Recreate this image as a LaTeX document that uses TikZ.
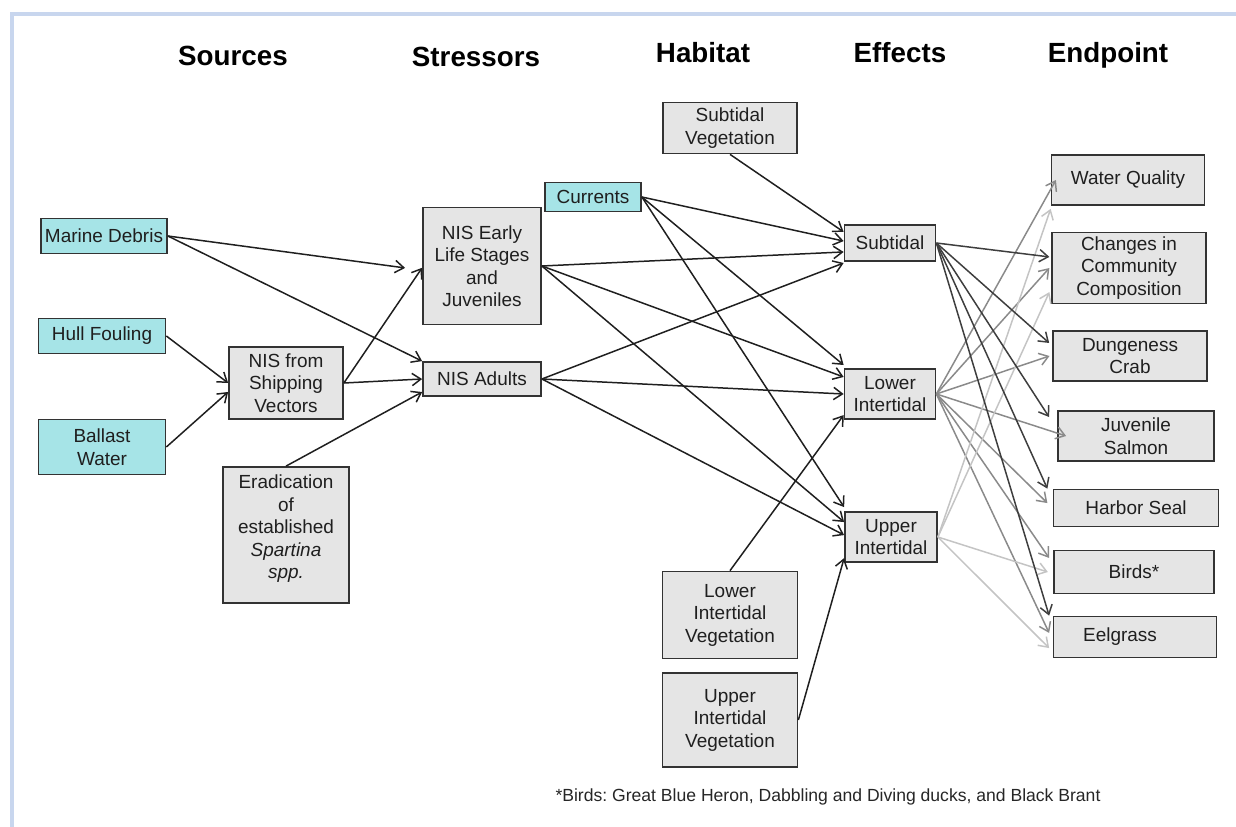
\documentclass[tikz,border=0pt]{standalone}
\usepackage{fontspec}
\setmainfont{Liberation Sans}
\usetikzlibrary{arrows.meta}
\frenchspacing

\definecolor{boxgrey}{RGB}{229,229,229}
\definecolor{boxcyan}{RGB}{166,228,231}
\definecolor{framebl}{RGB}{200,214,238}
\definecolor{linesub}{RGB}{62,62,62}
\definecolor{linelow}{RGB}{138,138,138}
\definecolor{lineup}{RGB}{196,196,196}

\begin{document}
\begin{tikzpicture}[x=0.02cm, y=-0.02cm, >={Straight Barb[length=5pt,width=7pt]}]
    \tikzstyle{grey box}=[
        draw = black!80,
        line width = 1pt,
        fill = boxgrey,
        text = black!88,
        inner sep = 1pt,
        align = center,
        font = \fontsize{10.8}{12.8}\selectfont
    ]
    \tikzstyle{cyan box}=[
        grey box,
        fill = boxcyan
    ]
    \tikzstyle{heading}=[
        font = \fontsize{15.8}{18}\selectfont\bfseries
    ]
    \tikzstyle{link}=[->, line width = 0.85pt, black!88]

    \useasboundingbox (0,0) rectangle (1236,827);
    \draw[framebl, line width = 2.3pt] (12,827) -- (12,14) -- (1236,14);

    \node[heading] (hsrc) at (233,56) {Sources};
    \node[heading] (hstr) at (476,57) {Stressors};
    \node[heading] (hhab) at (703,53) {Habitat};
    \node[heading] (heff) at (900,53) {Effects};
    \node[heading] (hend) at (1108,55) {Endpoint};

    \node[cyan box, minimum width=2.52cm, minimum height=0.70cm] (md) at (104,236) {Marine Debris};
    \node[cyan box, minimum width=2.54cm, minimum height=0.70cm] (hf) at (102,336) {Hull Fouling};
    \node[cyan box, minimum width=2.54cm, minimum height=1.10cm] (bw) at (102,447) {Ballast\\Water};

    \node[grey box, minimum width=2.28cm, minimum height=1.44cm] (nsv) at (286,383) {NIS from\\Shipping\\Vectors};
    \node[grey box, minimum width=2.52cm, minimum height=2.72cm] (erad) at (286,535) {Eradication\\of\\established\\\textit{Spartina}\\\textit{spp.}\\[-3.6pt]};
    \node[grey box, minimum width=2.36cm, minimum height=2.34cm] (early) at (482,266) {NIS Early\\Life Stages\\and\\Juveniles};
    \node[grey box, minimum width=2.36cm, minimum height=0.68cm] (adults) at (482,379) {NIS Adults};

    \node[grey box, minimum width=2.68cm, minimum height=1.02cm] (subveg) at (730,128) {Subtidal\\Vegetation};
    \node[cyan box, minimum width=1.92cm, minimum height=0.58cm] (cur) at (593,197) {Currents};
    \node[grey box, minimum width=2.70cm, minimum height=1.74cm] (lowveg) at (730,615) {Lower\\Intertidal\\Vegetation};
    \node[grey box, minimum width=2.70cm, minimum height=1.88cm] (upveg) at (730,720) {Upper\\Intertidal\\Vegetation};

    \node[grey box, minimum width=1.82cm, minimum height=0.72cm] (sub) at (890,243) {Subtidal};
    \node[grey box, minimum width=1.82cm, minimum height=1.00cm] (low) at (890,394) {Lower\\Intertidal};
    \node[grey box, minimum width=1.84cm, minimum height=1.00cm] (up) at (891,537) {Upper\\Intertidal};

    \node[grey box, minimum width=3.06cm, minimum height=1.00cm] (wq) at (1128,180) {Water Quality};
    \node[grey box, minimum width=3.08cm, minimum height=1.42cm] (ccc) at (1129,268) {Changes in\\Community\\Composition};
    \node[grey box, minimum width=3.08cm, minimum height=1.00cm] (dc) at (1130,356) {Dungeness\\Crab};
    \node[grey box, minimum width=3.12cm, minimum height=1.00cm] (js) at (1136,436) {Juvenile\\Salmon};
    \node[grey box, minimum width=3.30cm, minimum height=0.74cm] (hs) at (1136,508) {Harbor Seal};
    \node[grey box, minimum width=3.20cm, minimum height=0.86cm] (birds) at (1134,572) {Birds*};
    \node[grey box, minimum width=3.26cm, minimum height=0.82cm] (eel) at (1135,637) {Eelgrass\hspace{0.6cm}\null};

    \node[font=\fontsize{10}{12}\selectfont, text=black!85] (note) at (828,797)
        {*Birds: Great Blue Heron, Dabbling and Diving ducks, and Black Brant};

    \path[link] (md.east) edge ([xshift=-9.7pt,yshift=-1.1pt]early.west);
    \path[link] (md.east) edge (adults.north west);
    \path[link] (hf.east) edge (nsv.west);
    \path[link] (bw.east) edge ([yshift=-5.1pt]nsv.west);
    \path[link] (nsv.east) edge ([yshift=-1pt]early.west);
    \path[link] (nsv.east) edge (adults.west);
    \path[link] (erad.north) edge ([yshift=-7.4pt]adults.west);

    \path[link] (subveg.south) edge ([yshift=6.3pt]sub.west);
    \path[link] (cur.east) edge ([yshift=1.1pt]sub.west);
    \path[link] (early.east) edge ([yshift=-5.1pt]sub.west);
    \path[link] (adults.east) edge ([yshift=-11.4pt]sub.west);
    \path[link] (cur.east) edge ([yshift=16.5pt]low.west);
    \path[link] (early.east) edge ([yshift=9.7pt]low.west);
    \path[link] (adults.east) edge (low.west);
    \path[link] (lowveg.north) edge ([yshift=-12pt]low.west);
    \path[link] (cur.east) edge ([yshift=17pt]up.west);
    \path[link] (early.east) edge ([yshift=8.5pt]up.west);
    \path[link] (adults.east) edge ([yshift=1.1pt]up.west);
    \path[link] (upveg.east) edge ([yshift=-12pt]up.west);

    \path[link, linelow] (low.east) edge ([xshift=3pt]wq.west);
    \path[link, linelow] (low.east) edge ([xshift=-1pt]ccc.west);
    \path[link, linelow] (low.east) edge ([xshift=-1.5pt]dc.west);
    \path[link, linelow] (low.east) edge ([xshift=5.1pt]js.west);
    \path[link, linelow] (low.east) edge ([xshift=-3pt,yshift=2.8pt]hs.west);
    \path[link, linelow] (low.east) edge ([xshift=-2.3pt,yshift=8pt]birds.west);
    \path[link, linelow] (low.east) edge ([xshift=-2pt,yshift=2.3pt]eel.west);

    \path[link, lineup] (up.east) edge ([yshift=-1.7pt]wq.south west);
    \path[link, lineup] (up.east) edge ([xshift=-1pt,yshift=-13.7pt]ccc.west);
    \path[link, lineup] (up.east) edge ([xshift=-3pt]birds.west);
    \path[link, lineup] (up.east) edge ([xshift=-2pt,yshift=-6.3pt]eel.west);

    \path[link, linesub] (sub.east) edge ([xshift=-1pt,yshift=6.3pt]ccc.west);
    \path[link, linesub] (sub.east) edge ([xshift=-1.7pt,yshift=7.4pt]dc.west);
    \path[link, linesub] (sub.east) edge ([xshift=-4.6pt,yshift=10.8pt]js.west);
    \path[link, linesub] (sub.east) edge ([xshift=-3pt]hs.north west);
    \path[link, linesub] (sub.east) edge ([xshift=-2pt]eel.north west);

\end{tikzpicture}
\end{document}
